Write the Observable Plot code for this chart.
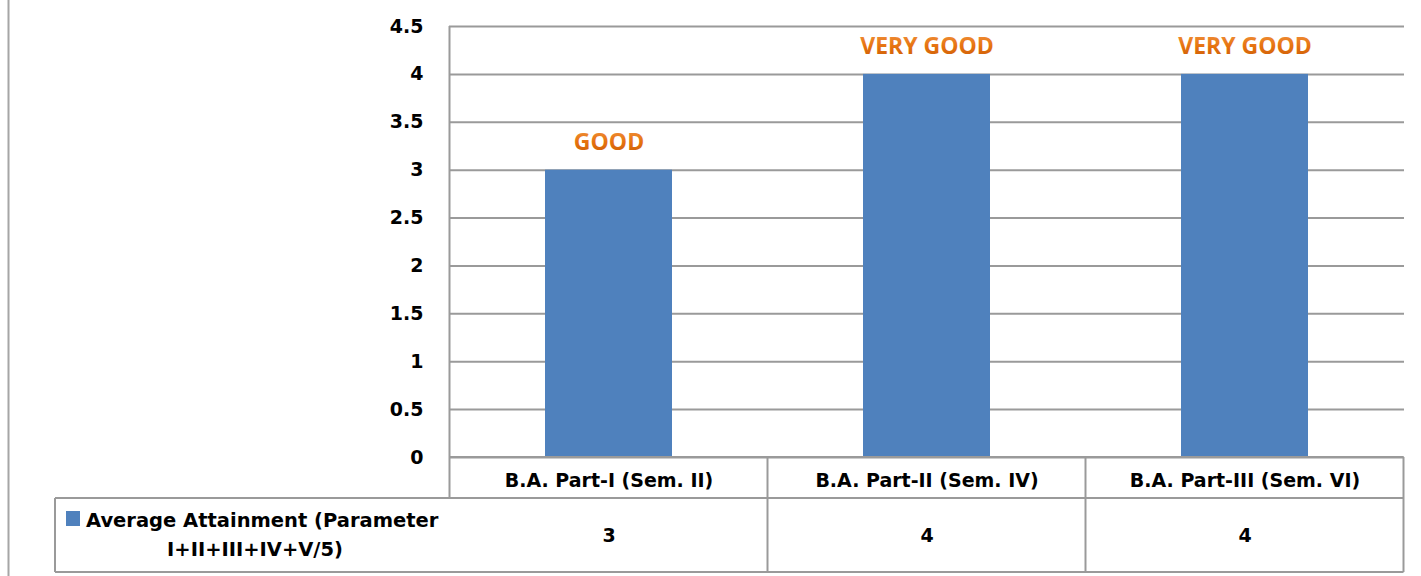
<!DOCTYPE html>
<html>
<head>
<meta charset="utf-8">
<script src="https://cdn.jsdelivr.net/npm/d3@7"></script>
<script src="https://cdn.jsdelivr.net/npm/@observablehq/plot@0.6"></script>
<style>
  html, body { margin: 0; padding: 0; background: #fff; }
  svg { display: block; }
</style>
</head>
<body>
<div id="chart"></div>
<script>
const categories = ["B.A. Part-I (Sem. II)", "B.A. Part-II (Sem. IV)", "B.A. Part-III (Sem. VI)"];
const values = [3, 4, 4];
const ratings = ["GOOD", "VERY GOOD", "VERY GOOD"];
const yTicks = [0, 0.5, 1, 1.5, 2, 2.5, 3, 3.5, 4, 4.5];
const seriesLine1 = "Average Attainment (Parameter";
const seriesLine2 = "I+II+III+IV+V/5)";

const data = categories.map((c, i) => ({cat: c, value: values[i], rating: ratings[i]}));

const FONT = "'DejaVu Sans', 'Open Sans', sans-serif";
const LABEL_FONT = "'Open Sans', Lato, sans-serif";
const GRID = "#9a9a9a";
const BAR = "#4F81BD";
const ORANGE = "#E36C0A";

const plot = Plot.plot({
  width: 1421,
  height: 576,
  marginLeft: 449,
  marginRight: 17,
  marginTop: 26,
  marginBottom: 119,
  style: {fontFamily: FONT, background: "#fff"},
  x: {domain: categories, paddingInner: 0.6, paddingOuter: 0.3, axis: null},
  y: {domain: [0, 4.5], axis: null},
  marks: [
    Plot.gridY(yTicks, {stroke: GRID, strokeOpacity: 1, strokeWidth: 2}),
    Plot.axisY(yTicks, {label: null, tickSize: 0, tickPadding: 26, fontSize: 19, fontWeight: "bold", fill: "#000", tickFormat: d => String(d)}),
    Plot.barY(data, {x: "cat", y: "value", fill: BAR}),
    Plot.text(data, {x: "cat", y: "value", text: "rating", dy: -28, lineAnchor: "middle", fill: ORANGE, fontSize: 23, fontWeight: "bold", fontFamily: LABEL_FONT, className: "rating-label"}),
    // category row of the data table
    Plot.text(data, {x: "cat", frameAnchor: "bottom", text: "cat", dy: 23, lineAnchor: "middle", fontSize: 19, fontWeight: "bold", fill: "#000"}),
    // value row of the data table
    Plot.text(data, {x: "cat", frameAnchor: "bottom", text: d => String(d.value), dy: 78, lineAnchor: "middle", fontSize: 19, fontWeight: "bold", fill: "#000"})
  ]
});

document.getElementById("chart").append(plot);

const svg = d3.select(plot);

// orange gradient for the rating labels (Excel-like text effect)
const defs = svg.insert("defs", ":first-child");
const grad = defs.append("linearGradient").attr("id", "orangeGrad").attr("x1", 0).attr("y1", 0).attr("x2", 0).attr("y2", 1);
grad.append("stop").attr("offset", "0%").attr("stop-color", "#F39A4A");
grad.append("stop").attr("offset", "55%").attr("stop-color", "#E6720F");
grad.append("stop").attr("offset", "100%").attr("stop-color", "#C65A06");
svg.selectAll("g.rating-label text").attr("fill", "url(#orangeGrad)");

// Data table lines and legend cell, positioned with the plot's own scales
const xs = plot.scale("x");
const ys = plot.scale("y");
const step = xs.step, bw = xs.bandwidth;
const left = d3.min(categories, c => xs.apply(c) - (step - bw) / 2);
const right = d3.max(categories, c => xs.apply(c) + bw + (step - bw) / 2);
const y0 = ys.apply(0);
const yTop = ys.apply(4.5);
const rowSplit = y0 + 41;
const tableBottom = y0 + 115;
const tableLeft = 55;

const g = svg.append("g").attr("stroke", GRID).attr("stroke-width", 2).attr("fill", "none");
// outer left border of chart
g.append("line").attr("x1", 8.5).attr("x2", 8.5).attr("y1", 0).attr("y2", 576).attr("stroke", "#a6a6a6");
// vertical axis line
g.append("line").attr("x1", left).attr("x2", left).attr("y1", yTop).attr("y2", rowSplit);
// baseline
g.append("line").attr("x1", left).attr("x2", right).attr("y1", y0).attr("y2", y0);
// column separators + right border
categories.forEach(c => {
  const xr = xs.apply(c) + bw + (step - bw) / 2;
  g.append("line").attr("x1", xr).attr("x2", xr).attr("y1", y0).attr("y2", tableBottom);
});
// value row box
g.append("line").attr("x1", tableLeft).attr("x2", right).attr("y1", rowSplit).attr("y2", rowSplit);
g.append("line").attr("x1", tableLeft).attr("x2", right).attr("y1", tableBottom).attr("y2", tableBottom);
g.append("line").attr("x1", tableLeft).attr("x2", tableLeft).attr("y1", rowSplit).attr("y2", tableBottom);

// legend key + series name
const lg = svg.append("g").attr("font-family", FONT).attr("font-size", 19.5).attr("font-weight", "bold").attr("fill", "#000");
lg.append("rect").attr("x", 66).attr("y", 511).attr("width", 14).attr("height", 15).attr("fill", BAR);
lg.append("text").attr("x", 86).attr("y", 527).attr("text-anchor", "start").text(seriesLine1);
lg.append("text").attr("x", 255).attr("y", 556).attr("text-anchor", "middle").text(seriesLine2);
</script>
</body>
</html>
